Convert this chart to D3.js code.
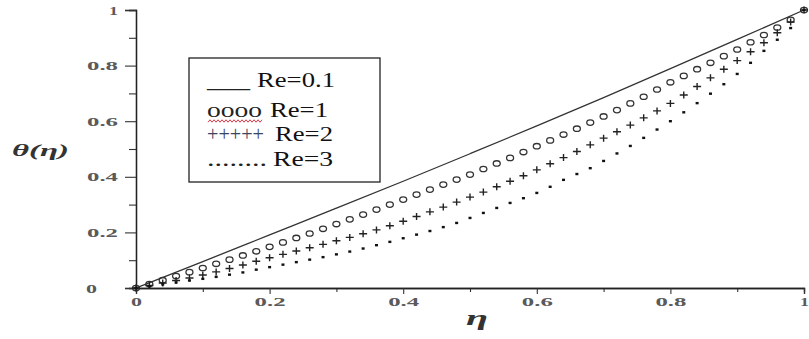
<!DOCTYPE html>
<html>
<head>
<meta charset="utf-8">
<script src="https://cdn.jsdelivr.net/npm/d3@7"></script>
<style>
  body { margin: 0; background: #fff; }
  svg { display: block; }
  text { font-family: "Liberation Serif", "Times New Roman", Times, "DejaVu Serif", serif; }
</style>
</head>
<body>
<div id="chart"></div>
<script>
// eta grid used for the marker series
var etaPts = [0, 0.02, 0.04, 0.06, 0.08, 0.1, 0.12, 0.14, 0.16, 0.18,
  0.2, 0.22, 0.24, 0.26, 0.28, 0.3, 0.32, 0.34, 0.36, 0.38,
  0.4, 0.42, 0.44, 0.46, 0.48, 0.5, 0.52, 0.54, 0.56, 0.58,
  0.6, 0.62, 0.64, 0.66, 0.68, 0.7, 0.72, 0.74, 0.76, 0.78,
  0.8, 0.82, 0.84, 0.86, 0.88, 0.9, 0.92, 0.94, 0.96, 0.98, 1]

// Re=0.1 (solid line)
var lineEta = [0, 0.1, 0.2, 0.3, 0.4, 0.5, 0.6, 0.7, 0.8, 0.9, 1]
var re01 = [0, 0.095, 0.191, 0.287, 0.384, 0.483, 0.583, 0.685, 0.789, 0.894, 1]

// Re=1 (circles)
var re1 = [0, 0.014, 0.028, 0.043, 0.057, 0.072, 0.087, 0.102, 0.117, 0.132,
  0.148, 0.164, 0.180, 0.196, 0.213, 0.230, 0.247, 0.264, 0.282, 0.300,
  0.318, 0.336, 0.354, 0.372, 0.390, 0.408, 0.428, 0.448, 0.468, 0.489,
  0.510, 0.531, 0.552, 0.573, 0.595, 0.617, 0.640, 0.664, 0.688, 0.714,
  0.740, 0.763, 0.787, 0.810, 0.834, 0.858, 0.884, 0.910, 0.937, 0.965, 1]

// Re=2 (plus)
var re2 = [0, 0.009, 0.018, 0.027, 0.036, 0.047, 0.058, 0.070, 0.083, 0.096,
  0.109, 0.121, 0.133, 0.145, 0.157, 0.170, 0.182, 0.195, 0.209, 0.224,
  0.240, 0.257, 0.274, 0.291, 0.309, 0.327, 0.345, 0.364, 0.384, 0.404,
  0.425, 0.447, 0.469, 0.491, 0.515, 0.539, 0.562, 0.586, 0.612, 0.637,
  0.664, 0.694, 0.725, 0.756, 0.787, 0.818, 0.850, 0.882, 0.918, 0.957, 1]

// Re=3 (dots)
var re3 = [0, 0.006, 0.013, 0.020, 0.027, 0.033, 0.040, 0.048, 0.056, 0.066,
  0.075, 0.084, 0.093, 0.102, 0.111, 0.121, 0.131, 0.142, 0.154, 0.166,
  0.179, 0.192, 0.205, 0.219, 0.234, 0.252, 0.270, 0.288, 0.306, 0.323,
  0.342, 0.364, 0.389, 0.410, 0.431, 0.457, 0.484, 0.511, 0.540, 0.570,
  0.600, 0.632, 0.665, 0.699, 0.733, 0.770, 0.810, 0.853, 0.893, 0.935, 1]

var majorTicks = [0, 0.2, 0.4, 0.6, 0.8, 1]
var minorTicks = [0.1, 0.3, 0.5, 0.7, 0.9]
var tickLabels = ["0", "0.2", "0.4", "0.6", "0.8", "1"]

var legendSymbols = ["____", "oooo", "+++++", "........"]
var legendLabels = ["Re=0.1", "Re=1", "Re=2", "Re=3"]

var width = 809, height = 339
var serif = '"Liberation Serif", "Times New Roman", Times, "DejaVu Serif", serif'

var svg = d3.select("#chart").append("svg")
  .attr("width", width)
  .attr("height", height)

var x = d3.scaleLinear().domain([0, 1]).range([136, 804])
var y = d3.scaleLinear().domain([0, 1]).range([288, 10])

// the source image is stretched sideways, so text gets a fixed width
function fitWidth(sel, w) {
  sel.attr("textLength", w).attr("lengthAdjust", "spacingAndGlyphs")
}

// Y axis
svg.append("g")
  .attr("transform", "translate(" + x(0) + ",0)")
  .call(d3.axisLeft(y).tickValues(minorTicks).tickSize(7).tickFormat(""))
var yMajor = svg.append("g")
  .attr("transform", "translate(" + x(0) + ",0)")
  .call(d3.axisLeft(y).tickValues(majorTicks).tickSize(11).tickPadding(7)
    .tickFormat(function(d, i) { return tickLabels[i] }))

// X axis
svg.append("g")
  .attr("transform", "translate(0," + y(0) + ")")
  .call(d3.axisBottom(x).tickValues(minorTicks).tickSize(4).tickFormat(""))
svg.append("g")
  .attr("transform", "translate(0," + y(0) + ")")
  .call(d3.axisBottom(x).tickValues(majorTicks).tickSize(6).tickPadding(3)
    .tickFormat(function(d, i) { return tickLabels[i] }))

svg.selectAll("g").attr("font-family", serif)
svg.selectAll(".domain").attr("stroke", "#222").attr("stroke-width", 1.3)
svg.selectAll(".tick line").attr("stroke", "#333").attr("stroke-width", 1.1)

svg.selectAll(".tick text")
  .attr("font-family", serif)
  .attr("font-size", 13)
  .attr("font-weight", "bold")
  .attr("fill", "#5a5a5a")
  .each(function(d, i) {
    var s = d3.select(this).text()
    fitWidth(d3.select(this), s.length === 1 ? (s === "1" ? 9 : 11) : 31)
  })

// Maple-style corner label "0" on the y axis
yMajor.selectAll(".tick text")
  .filter(function(d) { return d === 0 })
  .attr("text-anchor", "start")
  .attr("x", 86 - x(0))

// axis titles
svg.append("text")
  .attr("x", 12)
  .attr("y", 156)
  .attr("font-family", serif)
  .attr("font-size", 17)
  .attr("font-weight", "bold")
  .attr("font-style", "italic")
  .attr("fill", "#333")
  .text("θ(η)")
  .call(fitWidth, 57)

svg.append("text")
  .attr("x", 466)
  .attr("y", 325)
  .attr("font-family", serif)
  .attr("font-size", 21)
  .attr("font-weight", "bold")
  .attr("font-style", "italic")
  .attr("fill", "#333")
  .text("η")
  .call(fitWidth, 22)

// Re=0.1 solid line
svg.append("path")
  .datum(lineEta.map(function(e, i) { return [e, re01[i]] }))
  .attr("fill", "none")
  .attr("stroke", "#333")
  .attr("stroke-width", 1.3)
  .attr("d", d3.line()
    .x(function(d) { return x(d[0]) })
    .y(function(d) { return y(d[1]) })
    .curve(d3.curveMonotoneX))

// Re=1 circles
svg.append("g").selectAll("ellipse")
  .data(etaPts.map(function(e, i) { return [e, re1[i]] }))
  .enter().append("ellipse")
  .attr("cx", function(d) { return x(d[0]) })
  .attr("cy", function(d) { return y(d[1]) })
  .attr("rx", 3.5)
  .attr("ry", 2.7)
  .attr("fill", "none")
  .attr("stroke", "#333")
  .attr("stroke-width", 1.3)

// Re=2 plus
svg.append("g").selectAll("path")
  .data(etaPts.map(function(e, i) { return [e, re2[i]] }))
  .enter().append("path")
  .attr("transform", function(d) { return "translate(" + x(d[0]) + "," + y(d[1]) + ")" })
  .attr("d", "M-4,0H4M0,-3.5V3.5")
  .attr("stroke", "#222")
  .attr("stroke-width", 1.4)

// Re=3 dots
svg.append("g").selectAll("rect")
  .data(etaPts.map(function(e, i) { return [e, re3[i]] }))
  .enter().append("rect")
  .attr("x", function(d) { return x(d[0]) - 1.5 })
  .attr("y", function(d) { return y(d[1]) - 1.2 })
  .attr("width", 3)
  .attr("height", 2.4)
  .attr("fill", "#111")

// Legend
var legend = svg.append("g")
legend.append("rect")
  .attr("x", 189).attr("y", 58)
  .attr("width", 191).attr("height", 124)
  .attr("fill", "none")
  .attr("stroke", "#222")
  .attr("stroke-width", 1.3)

var rowBase = [87, 117, 141, 166]
var symW = [43, 55, 57, 60]
var labelX = [257, 270, 275, 273]
var labelW = [78, 58, 58, 60]
var symColor = ["#222", "#222", "#3a4660", "#222"]

legendSymbols.forEach(function(s, i) {
  legend.append("text")
    .attr("x", 207)
    .attr("y", rowBase[i])
    .attr("font-family", serif)
    .attr("font-size", 20)
    .attr("fill", symColor[i])
    .text(s)
    .call(fitWidth, symW[i])
  legend.append("text")
    .attr("x", labelX[i])
    .attr("y", rowBase[i])
    .attr("font-family", serif)
    .attr("font-size", 20)
    .attr("fill", "#111")
    .text(legendLabels[i])
    .call(fitWidth, labelW[i])
})

// red spell-check squiggle under "oooo"
var squiggle = d3.range(208, 264, 2).map(function(px, i) { return [px, 121 + (i % 2 ? -1.2 : 1.2)] })
legend.append("path")
  .attr("d", d3.line()(squiggle))
  .attr("fill", "none")
  .attr("stroke", "#d23")
  .attr("stroke-width", 0.9)
</script>
</body>
</html>
